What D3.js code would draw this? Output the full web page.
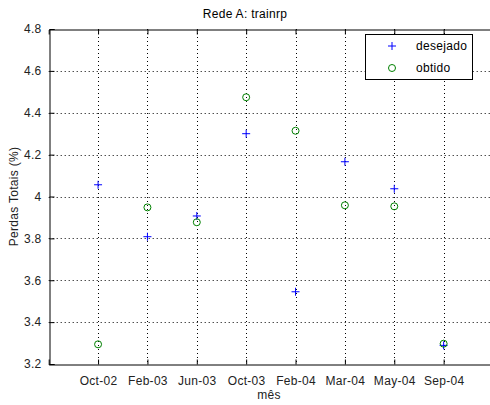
<!DOCTYPE html>
<html>
<head>
<meta charset="utf-8">
<script src="https://cdn.jsdelivr.net/npm/d3@7"></script>
<style>
body{margin:0;background:#fff;}
text{font-family:"Liberation Sans",Arial,sans-serif;letter-spacing:0.3px;}
</style>
</head>
<body>
<svg id="chart" width="490" height="405"></svg>
<script>
// months on the x axis
var months=["Oct-02","Feb-03","Jun-03","Oct-03","Feb-04","Mar-04","May-04","Sep-04"];
// desired and obtained losses (%)
var desejado=[4.056,3.808,3.907,4.300,3.545,4.166,4.037,3.289];
var obtido=[3.294,3.948,3.877,4.474,4.314,3.958,3.953,3.297];
var yTicks=[3.2,3.4,3.6,3.8,4,4.2,4.4,4.6,4.8];

var svg=d3.select("#chart");
var pLeft=48.7,pTop=29,pRight=493,pBottom=364;

var x=d3.scaleLinear().domain([0,9]).range([pLeft,pRight]);
var y=d3.scaleLinear().domain([3.2,4.8]).range([pBottom,pTop]);

svg.append("rect").attr("width",490).attr("height",405).attr("fill","#fff");

var idx=months.map(function(d,i){return i+1;});

// grid
var grid=svg.append("g").attr("stroke","#000").attr("stroke-width",1).attr("stroke-dasharray","1,3");
idx.forEach(function(i){
	grid.append("line").attr("x1",Math.round(x(i))+0.5).attr("x2",Math.round(x(i))+0.5)
	.attr("y1",pTop).attr("y2",pBottom);
});
yTicks.slice(1,-1).forEach(function(v){
	grid.append("line").attr("x1",pLeft).attr("x2",pRight)
	.attr("y1",Math.round(y(v))+0.5).attr("y2",Math.round(y(v))+0.5);
});

// axes (ticks pointing inward, like matlab)
var xb=d3.axisBottom(x).tickValues(idx).tickSize(-5).tickPadding(12)
	.tickFormat(function(d){return months[d-1];});
var gx=svg.append("g").attr("transform","translate(0,"+(pBottom+0.5)+")").call(xb);
var xt=d3.axisTop(x).tickValues(idx).tickSize(-5).tickFormat("");
var gxt=svg.append("g").attr("transform","translate(0,"+(pTop+0.5)+")").call(xt);
var yl=d3.axisLeft(y).tickValues(yTicks).tickSize(-5).tickPadding(8)
	.tickFormat(function(d){return d3.format("")(+d.toFixed(1));});
var gy=svg.append("g").attr("transform","translate("+(Math.round(pLeft)+0.5)+",0)").call(yl);

[gx,gxt,gy].forEach(function(g){
	g.select(".domain").attr("stroke","#000");
	g.selectAll(".tick line").attr("stroke","#000");
	g.selectAll("text").attr("fill","#222").style("font-size","12px")
	.style("font-family","'Liberation Sans',Arial,sans-serif");
});

// markers
function drawPlus(g,cx,cy){
	g.append("path").attr("d","M"+(cx-4)+","+cy+"H"+(cx+4)+"M"+cx+","+(cy-4)+"V"+(cy+4))
	.attr("stroke","#0000ff").attr("stroke-width",1).attr("fill","none");
}
function drawCircle(g,cx,cy){
	g.append("circle").attr("cx",cx).attr("cy",cy).attr("r",3.5)
	.attr("stroke","#008000").attr("stroke-width",1).attr("fill","none");
}
var pts=svg.append("g");
desejado.forEach(function(v,i){drawPlus(pts,x(i+1),y(v));});
obtido.forEach(function(v,i){drawCircle(pts,x(i+1),y(v));});

// title and labels
svg.append("text").attr("x",245).attr("y",18).attr("text-anchor","middle")
	.style("font-size","12px").attr("fill","#000").text("Rede A: trainrp");
svg.append("text").attr("x",269).attr("y",399).attr("text-anchor","middle")
	.style("font-size","12px").attr("fill","#222").text("mês");
svg.append("text").attr("transform","translate(18,196.5) rotate(-90)").attr("text-anchor","middle")
	.style("font-size","12px").attr("fill","#222").text("Perdas Totais (%)");

// legend
var lg=svg.append("g");
lg.append("rect").attr("x",365.5).attr("y",34.5).attr("width",107).attr("height",45)
	.attr("fill","#fff").attr("stroke","#000");
drawPlus(lg,392,46);
drawCircle(lg,392,68);
lg.append("text").attr("x",416).attr("y",50).style("font-size","12px").attr("fill","#000").text("desejado");
lg.append("text").attr("x",416).attr("y",72).style("font-size","12px").attr("fill","#000").text("obtido");
</script>
</body>
</html>
